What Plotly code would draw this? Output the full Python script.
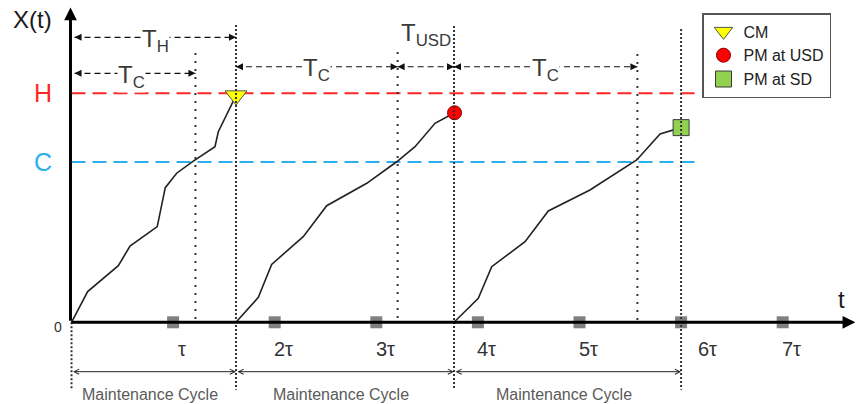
import plotly.graph_objects as go

# ---------------------------------------------------------------- data
H_LEVEL = 10.0          # hard (failure) threshold
C_LEVEL = 7.0           # critical threshold

# cycle start/end times (in units of tau)
cycle_bounds = [0.0, 1.619, 3.765, 6.0]
# times at which the degradation path crosses C in each cycle
tc_times = [1.22, 3.21, 5.57]

# degradation path X(t) for each maintenance cycle
cycle1_t = [0.0, 0.159, 0.461, 0.576, 0.844, 0.923, 1.035, 1.199, 1.412, 1.445, 1.619]
cycle1_x = [0.0, 1.34, 2.47, 3.33, 4.18, 5.88, 6.51, 7.04, 7.67, 8.32, 9.9]
cycle2_t = [1.619, 1.839, 1.970, 2.281, 2.512, 2.906, 3.201, 3.381, 3.578, 3.770]
cycle2_x = [0.0, 1.09, 2.53, 3.74, 5.09, 6.07, 7.01, 7.67, 8.69, 9.15]
cycle3_t = [3.765, 4.004, 4.136, 4.464, 4.693, 5.103, 5.563, 5.793, 6.0]
cycle3_x = [0.0, 1.05, 2.43, 3.52, 4.86, 5.78, 7.09, 8.22, 8.5]

tau_multiples = [1, 2, 3, 4, 5, 6, 7]
tau_labels = ["τ", "2τ", "3τ", "4τ", "5τ", "6τ", "7τ"]

event_names = ["CM", "PM at USD", "PM at SD"]

# ---------------------------------------------------------------- style
FONT = "Liberation Sans, Arial, sans-serif"
X_RANGE = [-0.7037, 7.7215]
Y_RANGE = [-3.568, 14.074]
TXT = "#3a3a3a"
RED = "#ff2626"
BLUE = "#2ab0ee"

fig = go.Figure()

# degradation paths
for ts, xs in [(cycle1_t, cycle1_x), (cycle2_t, cycle2_x), (cycle3_t, cycle3_x)]:
    fig.add_trace(go.Scatter(x=ts, y=xs, mode="lines", showlegend=False,
                             line=dict(color="#222222", width=1.6),
                             hoverinfo="skip"))

# inspection instants k*tau on the time axis
fig.add_trace(go.Scatter(x=tau_multiples, y=[0] * len(tau_multiples), mode="markers",
                         showlegend=False, hoverinfo="skip",
                         marker=dict(symbol="square", size=12, color="#808080",
                                     line=dict(width=0))))

# maintenance events at the end of each cycle
event_styles = [
    dict(symbol="triangle-down", size=19, color="#ffff00", line=dict(color="#555555", width=1)),
    dict(symbol="circle", size=14, color="#ff0000", line=dict(color="#8a0000", width=1)),
    dict(symbol="square", size=16, color="#92d050", line=dict(color="#3a3a3a", width=1)),
]
for name, ts, xs, st in zip(event_names, [cycle1_t, cycle2_t, cycle3_t],
                            [cycle1_x, cycle2_x, cycle3_x], event_styles):
    fig.add_trace(go.Scatter(x=[ts[-1]], y=[xs[-1]], mode="markers", name=name,
                             marker=st, hoverinfo="skip"))

shapes = []
annotations = []

# threshold levels
shapes.append(dict(type="line", x0=0, x1=6.167, y0=H_LEVEL, y1=H_LEVEL, layer="below",
                   line=dict(color=RED, width=2, dash="14px,7px")))
shapes.append(dict(type="line", x0=0, x1=6.167, y0=C_LEVEL, y1=C_LEVEL, layer="below",
                   line=dict(color=BLUE, width=2, dash="14px,7px")))

# cycle boundaries (dense dots) and C-crossing times (sparse dots)
cycle_tops = [None, 12.98, 12.94, 12.81]
shapes.append(dict(type="line", x0=cycle_bounds[0], x1=cycle_bounds[0], y0=0, y1=-2.9,
                   line=dict(color="#333333", width=2, dash="2px,2px")))
for b, top in zip(cycle_bounds[1:], cycle_tops[1:]):
    shapes.append(dict(type="line", x0=b, x1=b, y0=top, y1=-2.95,
                       line=dict(color="#333333", width=2, dash="2px,2px")))
tc_tops = [11.76, 11.8, 11.72]
for tc, top in zip(tc_times, tc_tops):
    shapes.append(dict(type="line", x0=tc, x1=tc, y0=top, y1=0,
                       line=dict(color="#333333", width=2, dash="2px,6px")))


def dashed_span(a, b, y):
    """Dashed double-headed arrow between times a and b at height y."""
    shapes.append(dict(type="line", x0=a, x1=b, y0=y, y1=y,
                       line=dict(color="#111111", width=1.2, dash="6px,4px")))
    for tip, off in [(b, -7), (a, 7)]:
        annotations.append(dict(x=tip, y=y, xref="x", yref="y", ax=off, ay=0,
                                text="", showarrow=True, arrowhead=2, arrowsize=1.4,
                                arrowwidth=1, arrowcolor="#111111", standoff=0))


def span_label(x, y, main, sub, bg=True, yshift=0):
    annotations.append(dict(x=x, y=y, xref="x", yref="y", showarrow=False,
                            text=f"{main}<sub>{sub}</sub>", yshift=yshift,
                            font=dict(family=FONT, size=24, color=TXT),
                            bgcolor="white" if bg else None, borderpad=0))


y_th, y_tc1, y_row2 = 12.445, 10.87, 11.16
dashed_span(0.03, cycle_bounds[1], y_th)
dashed_span(0.03, tc_times[0], y_tc1)
dashed_span(cycle_bounds[1], tc_times[1], y_row2)
dashed_span(tc_times[1], cycle_bounds[2], y_row2)
dashed_span(cycle_bounds[2], tc_times[2], y_row2)

span_label(0.822, y_th, "T", "H", yshift=-3)
span_label(0.595, y_tc1, "T", "C", yshift=-3)
span_label((cycle_bounds[1] + tc_times[1]) / 2, y_row2, "T", "C", yshift=-3)
span_label((tc_times[1] + cycle_bounds[2]) / 2, 12.55, "T", "USD", bg=False)
span_label((cycle_bounds[2] + tc_times[2]) / 2, y_row2, "T", "C", yshift=-3)

# axes with arrow tips
annotations.append(dict(x=-0.01, y=13.75, ax=-0.01, ay=0, xref="x", yref="y",
                        axref="x", ayref="y", text="", showarrow=True, arrowhead=2,
                        arrowsize=0.85, arrowwidth=3, arrowcolor="#000000", standoff=0))
annotations.append(dict(x=7.715, y=0, ax=-0.015, ay=0, xref="x", yref="y",
                        axref="x", ayref="y", text="", showarrow=True, arrowhead=2,
                        arrowsize=0.85, arrowwidth=3, arrowcolor="#000000", standoff=0))

# maintenance-cycle spans under the time axis
for a, b in zip(cycle_bounds[:-1], cycle_bounds[1:]):
    annotations.append(dict(x=b, y=-2.157, ax=a, ay=-2.157, xref="x", yref="y",
                            axref="x", ayref="y", text="", showarrow=True,
                            arrowhead=5, startarrowhead=5, arrowside="end+start",
                            arrowsize=1, startarrowsize=1, arrowwidth=1,
                            arrowcolor="#222222", standoff=0, startstandoff=0))
    annotations.append(dict(x=(a + b) / 2, y=-3.17, xref="x", yref="y", xshift=-4,
                            showarrow=False, text="Maintenance Cycle",
                            font=dict(family=FONT, size=16, color="#5a5a5a")))

# tau tick labels
label_shift = {6: 26}
for k, lab in zip(tau_multiples, tau_labels):
    annotations.append(dict(x=k, y=-1.166, xref="x", yref="y", showarrow=False,
                            xshift=label_shift.get(k, 9), text=lab,
                            font=dict(family=FONT, size=20, color="#333333")))

# axis titles and level names
annotations += [
    dict(x=-0.379, y=13.24, text="X(t)", font=dict(family=FONT, size=24, color="#1a1a1a")),
    dict(x=7.583, y=0.974, text="t", font=dict(family=FONT, size=24, color="#1a1a1a")),
    dict(x=-0.28, y=H_LEVEL, text="H", font=dict(family=FONT, size=25, color=RED)),
    dict(x=-0.28, y=C_LEVEL, text="C", font=dict(family=FONT, size=25, color=BLUE)),
    dict(x=-0.133, y=-0.2, text="0", font=dict(family=FONT, size=14, color="#333333")),
]
for a in annotations[-5:]:
    a.update(xref="x", yref="y", showarrow=False)

fig.update_layout(
    width=856, height=404,
    margin=dict(l=0, r=0, t=0, b=0),
    paper_bgcolor="white", plot_bgcolor="white",
    xaxis=dict(range=X_RANGE, visible=False, fixedrange=True),
    yaxis=dict(range=Y_RANGE, visible=False, fixedrange=True),
    shapes=shapes,
    annotations=annotations,
    showlegend=True,
    legend=dict(x=702 / 856, y=1 - 13 / 404, xanchor="left", yanchor="top",
                bgcolor="white", bordercolor="#555555", borderwidth=1.5,
                font=dict(family=FONT, size=16, color="#222222"),
                tracegroupgap=0),
    font=dict(family=FONT),
)

fig.write_html("out.html")
